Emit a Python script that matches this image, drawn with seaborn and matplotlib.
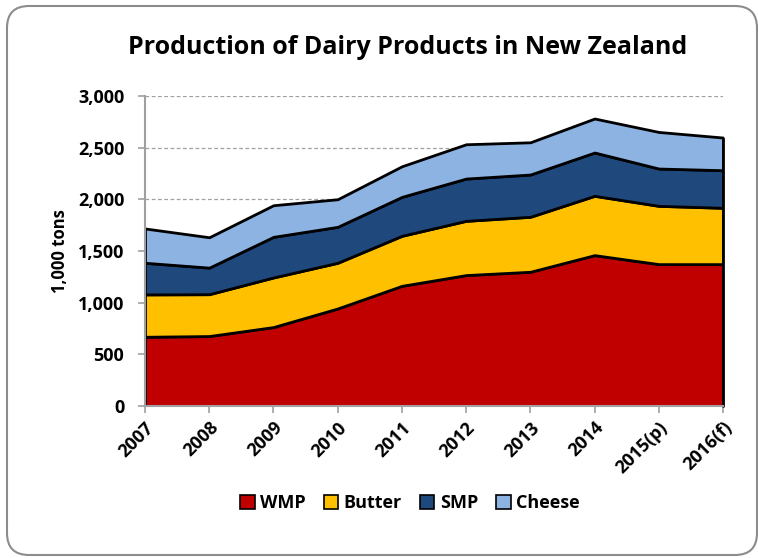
import matplotlib
matplotlib.use("Agg")
import matplotlib.pyplot as plt
from matplotlib.patches import FancyBboxPatch, Patch
from matplotlib.transforms import IdentityTransform
import seaborn as sns
import numpy as np

years = ["2007", "2008", "2009", "2010", "2011", "2012", "2013", "2014", "2015(p)", "2016(f)"]
wmp = [670, 677, 764, 944, 1163, 1267, 1299, 1460, 1373, 1373]
butter = [410, 405, 480, 442, 484, 525, 532, 574, 564, 545]
smp = [306, 257, 393, 348, 377, 409, 409, 419, 361, 364]
cheese = [332, 294, 306, 267, 296, 332, 312, 329, 354, 316]
series_names = ["WMP", "Butter", "SMP", "Cheese"]
colors = ["#C00000", "#FFC000", "#1F497D", "#8DB3E2"]
yticks = [0, 500, 1000, 1500, 2000, 2500, 3000]

sns.set_theme(style="white")
plt.rcParams['font.family'] = ['Open Sans', 'DejaVu Sans']
plt.rcParams['font.weight'] = 'bold'
plt.rcParams['text.color'] = 'black'
plt.rcParams['xtick.color'] = 'black'
plt.rcParams['ytick.color'] = 'black'
plt.rcParams['axes.labelcolor'] = 'black'

fig = plt.figure(figsize=(7.58, 5.58), dpi=100)
ax = fig.add_axes([145/758, 1-406/558, (723-145)/758, (406-96)/558])

x = np.arange(len(years))
ax.stackplot(x, wmp, butter, smp, cheese, colors=colors, edgecolor="black",
             linewidth=2, zorder=3)
ax.plot([x[-1], x[-1]], [0, sum(s[-1] for s in [wmp, butter, smp, cheese])],
        color="black", lw=2, zorder=4, clip_on=False)

ax.set_xlim(0, len(years) - 1)
ax.set_ylim(0, 3000)
ax.set_yticks(yticks)
ax.set_yticklabels([f"{v:,}" for v in yticks], fontsize=13, fontweight="bold")
ax.set_xticks(x)
ax.set_xticklabels(years, rotation=45, ha="right", rotation_mode="anchor",
                   fontsize=13, fontweight="bold")
ax.tick_params(axis="x", bottom=True, length=5, color="#A0A0A0", width=1.2, pad=4)
ax.tick_params(axis="y", left=True, length=5, color="#A0A0A0", width=1.2, pad=10)
ax.yaxis.grid(True, linestyle=(0, (3, 2)), color="#A0A0A0", linewidth=0.9, zorder=0)
ax.set_axisbelow(True)
for s in ["top", "right"]:
    ax.spines[s].set_visible(False)
for s in ["left", "bottom"]:
    ax.spines[s].set_color("#A0A0A0")
    ax.spines[s].set_linewidth(1.5)
    ax.spines[s].set_zorder(5)

ax.set_ylabel("1,000 tons", fontsize=12, fontweight="bold", labelpad=6)
fig.text(408/758, 1-47/558, "Production of Dairy Products in New Zealand",
         ha="center", va="center", fontsize=18, fontweight="bold")

handles = [Patch(facecolor=c, edgecolor="black", linewidth=1.2) for c in colors]
fig.legend(handles, series_names, loc="center", bbox_to_anchor=(410/758, 1-503/558),
           ncol=4, frameon=False, prop={"weight": "bold", "size": 13},
           handlelength=0.8, handleheight=0.8, handletextpad=0.3, columnspacing=1.0)

border = FancyBboxPatch((7, 3), 750, 549,
                        boxstyle="round,pad=0,rounding_size=22",
                        transform=IdentityTransform(), facecolor="none",
                        edgecolor="#8C8C8C", linewidth=1.5)
fig.patches.append(border)

fig.savefig("out.png", dpi=100)
